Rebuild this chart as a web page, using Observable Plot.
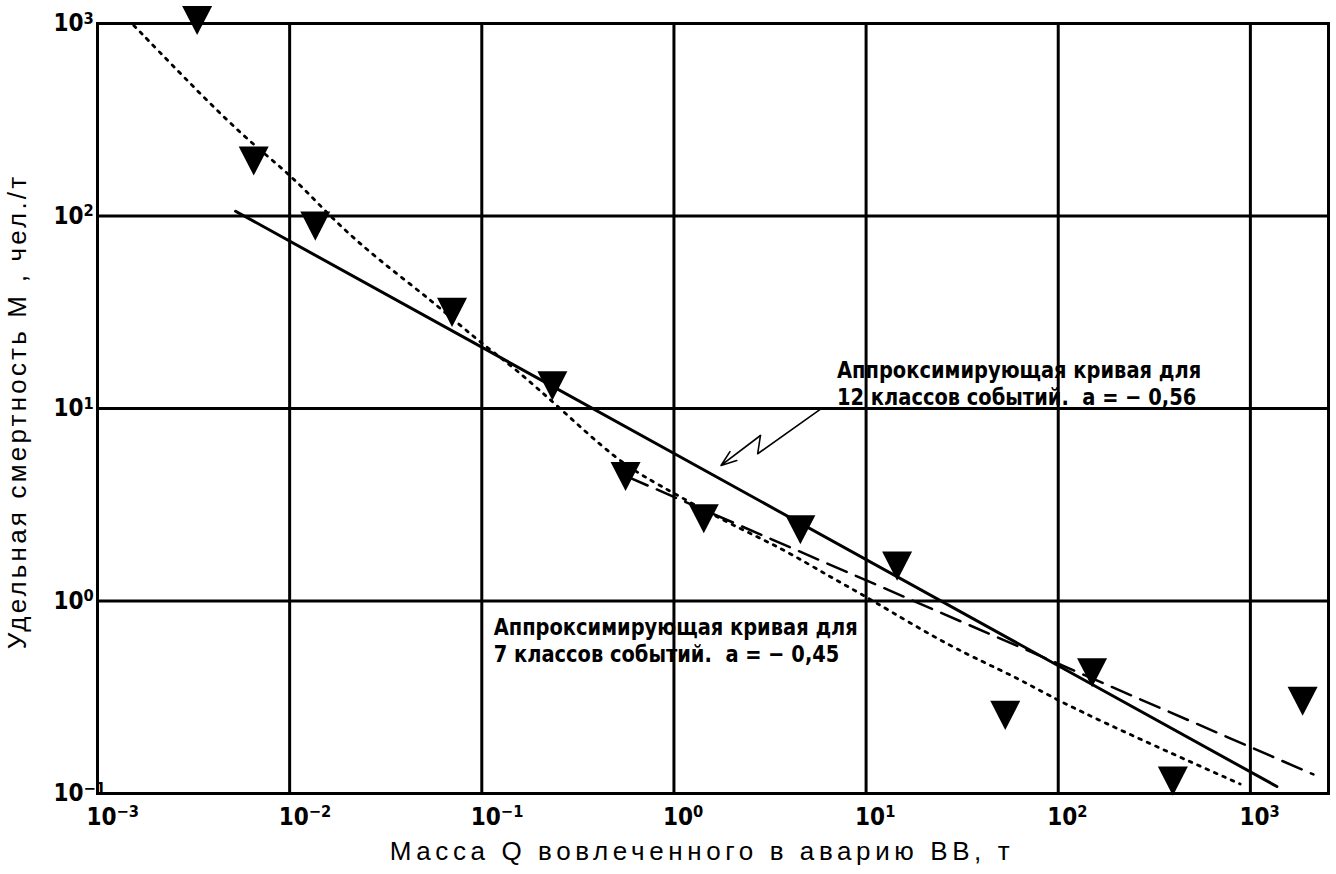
<!DOCTYPE html>
<html><head><meta charset="utf-8">
<script src="https://cdn.jsdelivr.net/npm/d3@7"></script>
<script src="https://cdn.jsdelivr.net/npm/@observablehq/plot@0.6"></script>
<style>
html,body{margin:0;padding:0;background:#fff;}
#chart svg{display:block;}
</style></head><body><div id="chart"></div>
<script>
// Axis ticks and labels
const xTicks = [1e-3, 1e-2, 1e-1, 1, 10, 100, 1000];
const xTickLabels = ["10⁻³","10⁻²","10⁻¹","10⁰","10¹","10²","10³"];
const yTicks = [0.1, 1, 10, 100, 1000];
const yTickLabels = ["10⁻¹","10⁰","10¹","10²","10³"];
const xTitle = "Масса Q вовлеченного в аварию ВВ, т";
const yTitle = "Удельная смертность M , чел./т";

// Observed events (triangles)
const eventQ = [0.0033, 0.0065, 0.0136, 0.07, 0.233, 0.56, 1.43, 4.55, 14.5, 53, 150, 395, 1870];
const eventM = [1100, 205, 94, 33.5, 13.9, 4.7, 2.84, 2.49, 1.61, 0.27, 0.45, 0.123, 0.32];

// Approximating line for 12 classes (solid)
const fit12Q = [0.00523, 1374];
const fit12M = [105.9, 0.1087];
// Approximating line for 7 classes (dashed)
const fit7Q = [0.579, 2128];
const fit7M = [4.40, 0.1256];
// Dotted curve
const curveQ = [0.001545, 0.00276, 0.00577, 0.0103, 0.01695, 0.0285, 0.0562, 0.0927, 0.1466, 0.2565, 0.506, 0.784, 1.93, 3.58, 6.52, 10.1, 27.4, 61, 98.4, 301, 885];
const curveM = [977, 537, 256, 162, 94.8, 60, 35.7, 23.0, 16.4, 9.98, 5.37, 4.14, 2.52, 1.90, 1.33, 1.05, 0.575, 0.402, 0.304, 0.181, 0.112];

// Annotations
const noteText = ["Аппроксимирующая кривая для\n12 классов событий.  a = − 0,56",
                  "Аппроксимирующая кривая для\n7 классов событий.  a = − 0,45"];
const noteQ = [7.06, 0.1153];
const noteM = [18.1, 0.841];
const pointerQ = [5.82, 2.727, 2.82];
const pointerM = [9.95, 5.82, 7.24];
const pointerTipQ = [1.758];
const pointerTipM = [5.06];

const events = eventQ.map((q, i) => ({q, m: eventM[i]}));
const fit12 = fit12Q.map((q, i) => ({q, m: fit12M[i]}));
const fit7 = fit7Q.map((q, i) => ({q, m: fit7M[i]}));
const curve = curveQ.map((q, i) => ({q, m: curveM[i]}));
const notes = noteText.map((t, i) => ({t, q: noteQ[i], m: noteM[i]}));
const pointer = pointerQ.map((q, i) => ({q, m: pointerM[i]}));
const pointerHead = [{q1: pointerQ[2], m1: pointerM[2], q2: pointerTipQ[0], m2: pointerTipM[0]}];

const downTriangle = {
  draw(ctx, size) {
    const r = Math.sqrt(size / Math.PI);
    ctx.moveTo(-r, -0.64 * r);
    ctx.lineTo(r, -0.64 * r);
    ctx.lineTo(0, 1.3 * r);
    ctx.closePath();
  }
};

const narrow = "'DejaVu Sans Condensed', 'DejaVu Sans', sans-serif";
const regular = "'Liberation Sans', Arial, sans-serif";

const plot = Plot.plot({
  width: 1336, height: 874,
  marginLeft: 97, marginRight: 8, marginTop: 23, marginBottom: 81,
  style: {background: "white", color: "black", overflow: "visible"},
  x: {type: "log", domain: [1e-3, 2550], axis: null},
  y: {type: "log", domain: [0.1, 1000], axis: null},
  marks: [
    Plot.gridX(xTicks, {stroke: "black", strokeOpacity: 1, strokeWidth: 3}),
    Plot.gridY(yTicks, {stroke: "black", strokeOpacity: 1, strokeWidth: 3}),
    Plot.frame({stroke: "black", strokeWidth: 3}),
    Plot.axisX(xTicks, {tickSize: 0, tickPadding: 14, textAnchor: "start", dx: -11,
      tickFormat: d => xTickLabels[xTicks.indexOf(d)], label: null,
      fontFamily: narrow, fontSize: 24, fontWeight: "bold", fill: "black"}),
    Plot.axisY(yTicks, {tickSize: 0, tickPadding: 44, textAnchor: "start",
      tickFormat: d => yTickLabels[yTicks.indexOf(d)], label: null,
      fontFamily: narrow, fontSize: 24, fontWeight: "bold", fill: "black"}),
    Plot.line(curve, {x: "q", y: "m", curve: "basis", stroke: "black", strokeWidth: 2.8,
      strokeDasharray: "2.8,6.4"}),
    Plot.line(fit7, {x: "q", y: "m", stroke: "black", strokeWidth: 2.5, strokeDasharray: "21,10"}),
    Plot.line(fit12, {x: "q", y: "m", stroke: "black", strokeWidth: 3}),
    Plot.dot(events, {x: "q", y: "m", symbol: downTriangle, r: 15, fill: "black", stroke: "none"}),
    Plot.line(pointer, {x: "q", y: "m", stroke: "black", strokeWidth: 1.6}),
    Plot.arrow(pointerHead, {x1: "q1", y1: "m1", x2: "q2", y2: "m2", stroke: "black",
      strokeWidth: 1.6, headLength: 16, headAngle: 40}),
    Plot.text(notes, {x: "q", y: "m", text: "t", textAnchor: "start", lineAnchor: "top",
      lineHeight: 1.15, fontSize: 23.5, fontWeight: "bold", fontFamily: narrow, fill: "black"}),
    Plot.text([xTitle], {frameAnchor: "bottom", textAnchor: "middle", lineAnchor: "middle",
      dy: 58, dx: -11, fontSize: 26, fontFamily: regular, fill: "black"}),
    Plot.text([yTitle], {frameAnchor: "left", textAnchor: "middle", lineAnchor: "middle",
      rotate: -90, dx: -80, dy: 3, fontSize: 26, fontFamily: regular, fill: "black"})
  ]
});

// typographic touches: spaced-out axis titles, narrowed notes, larger raised exponents
const svg = d3.select(plot);
svg.selectAll("text").filter(function() { return this.textContent === xTitle; })
  .style("letter-spacing", "4.6px");
svg.selectAll("text").filter(function() { return this.textContent === yTitle; })
  .style("letter-spacing", "3.2px");
svg.selectAll("text").filter(function() { return this.textContent.startsWith("Аппрокс"); })
  .each(function() {
    const t = d3.select(this);
    const x0 = +(t.attr("x") || 0);
    const old = t.attr("transform") || "";
    t.attr("transform", `${old} translate(${x0},0) scale(0.92,1) translate(${-x0},0)`);
  });
const supMap = {"⁻": "−", "⁰": "0", "¹": "1", "²": "2", "³": "3"};
svg.selectAll("text").filter(function() { return /^10[⁻⁰¹²³]+$/.test(this.textContent); })
  .each(function() {
    const s = this.textContent;
    const exp = Array.from(s.slice(2)).map(c => supMap[c] ?? c).join("");
    const t = d3.select(this);
    t.text("10");
    t.append("tspan").attr("dy", "-0.45em").attr("font-size", "0.68em").text(exp);
  });

document.getElementById("chart").appendChild(plot);
</script>
</body></html>
